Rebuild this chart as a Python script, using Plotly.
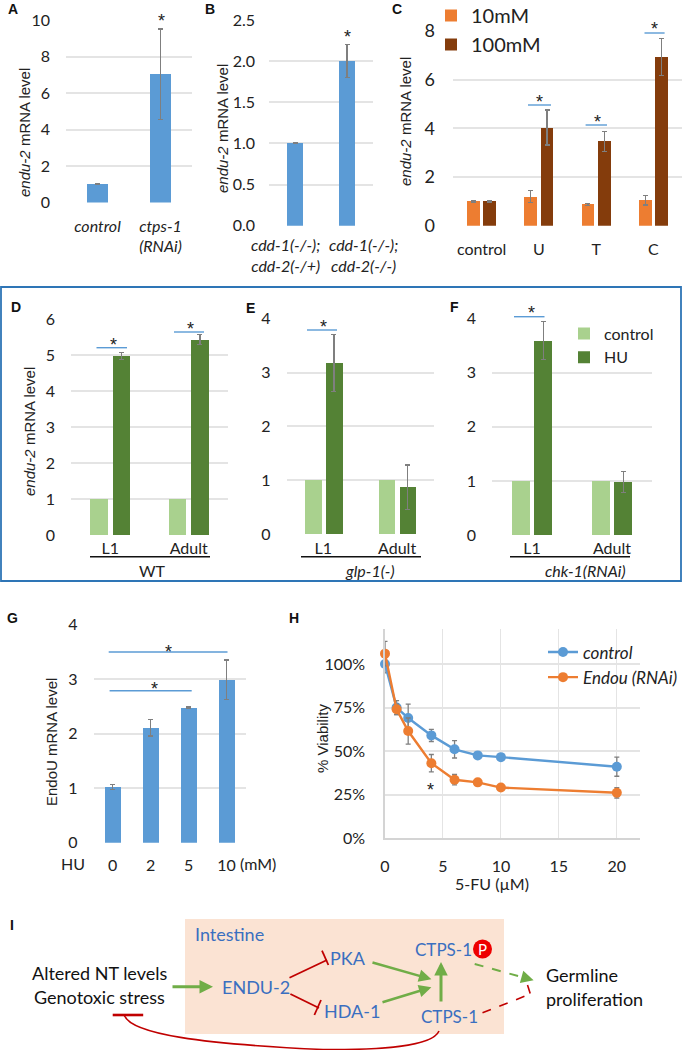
import plotly.graph_objects as go

W, H = 682, 1050
BLUE, ORANGE, BROWN, LGREEN, DGREEN = "#5b9bd5", "#ed7d31", "#843c0c", "#a9d18e", "#548235"
GRID, ERR, TXT, LINK, GA, RED = "#e4e4e4", "#7f7f7f", "#222222", "#5b9bd5", "#70ad47", "#c00000"
NODE = "#3a6fc0"
NUM = "Lato"
SANS = "Liberation Sans"

# Panel A
a_cat = ["<i>control</i>", "<i>ctps-1<br>(RNAi)</i>"]
a_val = [1.0, 7.03]
a_err = [0.02, 2.47]
# Panel B
b_cat = ["<i>cdd-1(-/-);<br>cdd-2(-/+)</i>", "<i>cdd-1(-/-);<br>cdd-2(-/-)</i>"]
b_val = [1.0, 2.0]
b_err = [0.005, 0.2]
# Panel C
c_cat = ["control", "U", "T", "C"]
c_10 = [1.0, 1.2, 0.88, 1.05]
c_10_err = [0.02, 0.25, 0.04, 0.2]
c_100 = [1.0, 4.03, 3.46, 6.94]
c_100_err = [0.02, 0.72, 0.4, 0.76]
# Panel D
stage = ["L1", "Adult"]
d_ctrl = [1.0, 1.0]
d_hu = [4.97, 5.43]
d_hu_err = [0.1, 0.13]
# Panel E
e_ctrl = [1.0, 1.0]
e_hu = [3.18, 0.87]
e_hu_err = [0.53, 0.41]
# Panel F
f_ctrl = [1.0, 1.0]
f_hu = [3.6, 0.98]
f_hu_err = [0.35, 0.19]
# Panel G
g_cat = ["0", "2", "5", "10"]
g_val = [1.02, 2.11, 2.48, 2.99]
g_err = [0.05, 0.15, 0.01, 0.36]
# Panel H
h_x = [0, 1, 2, 4, 6, 8, 10, 20]
h_ctrl = [100, 75, 69, 59, 51, 47.5, 46.5, 41]
h_ctrl_err = [5, 4, 8, 3.5, 5, 1, 1.5, 5.5]
h_rnai = [106, 74, 61.5, 43, 33.5, 32, 29, 26]
h_rnai_err = [7, 3, 7.5, 5, 3, 1, 1, 3]


def px(x):
    return x / W


def py(y):
    return 1 - y / H


fig = go.Figure()
shapes, notes = [], []


def axes(n, x0, x1, top, bottom, yrange, dtick, tick_size=16, cat=None, standoff=22, ystand=15, ticktext=None):
    sx = "" if n == 1 else str(n)
    fig.layout["xaxis" + sx] = dict(
        domain=[px(x0), px(x1)], anchor="y" + sx, showgrid=False, zeroline=False, showline=False,
        ticks="", tickfont=dict(family=NUM, size=16, color=TXT), ticklabelstandoff=standoff,
        range=[-0.5, len(cat) - 0.5] if cat else None, type="category" if cat else None,
        tickangle=0, fixedrange=True,
    )
    fig.layout["yaxis" + sx] = dict(
        domain=[py(bottom), py(top)], anchor="x" + sx, range=yrange, dtick=dtick, showgrid=True,
        gridcolor=GRID, gridwidth=1.6, zeroline=False, showline=False, ticks="",
        tickfont=dict(family=NUM, size=tick_size, color=TXT), ticklabelstandoff=ystand, fixedrange=True,
    )
    if ticktext:
        fig.layout["yaxis" + sx].tickformat = ticktext


def bar(n, x, y, color, width, err=None, offset=None, name=None, legend=None):
    sx = "" if n == 1 else str(n)
    kw = dict(
        x=x, y=y, width=width, marker=dict(color=color, line=dict(width=0)), xaxis="x" + sx, yaxis="y" + sx,
        showlegend=bool(name), name=name or "",
    )
    if legend:
        kw["legend"] = legend
    if offset is not None:
        kw["offset"] = offset
    if err is not None:
        kw["error_y"] = dict(type="data", array=err, color=ERR, thickness=1.3, width=2.5)
    fig.add_trace(go.Bar(**kw))


def text(x, y, s, size=16, color=TXT, family=NUM, angle=0, anchor="center"):
    notes.append(dict(
        x=px(x), y=py(y), xref="paper", yref="paper", text=s, showarrow=False, xanchor=anchor, yanchor="middle",
        textangle=angle, font=dict(family=family, size=size, color=color),
    ))


def seg(x0, y0, x1, y1, color=LINK, width=1.4, dash="solid"):
    shapes.append(dict(
        type="line", xref="paper", yref="paper", x0=px(x0), y0=py(y0), x1=px(x1), y1=py(y1),
        line=dict(color=color, width=width, dash=dash),
    ))


def arrow(x0, y0, x1, y1, width=2.5, size=1.0):
    notes.append(dict(
        x=px(x1), y=py(y1), xref="paper", yref="paper", text="", showarrow=True, arrowhead=2, arrowsize=size,
        arrowwidth=width, arrowcolor=GA, ax=x0 - x1, ay=y0 - y1, standoff=0, startstandoff=0,
    ))


# Charts
axes(1, 66, 192, 20, 202.5, [0, 10], 2, cat=a_cat, standoff=12)
bar(1, a_cat, a_val, BLUE, 0.32, a_err)
axes(2, 269, 373, 20, 225.7, [0, 2.5], 0.5, cat=b_cat, standoff=11, ystand=13, ticktext=".1f")
fig.layout.xaxis2.showticklabels = False
bar(2, b_cat, b_val, BLUE, 0.31, b_err)
text(285, 255, b_cat[0], 16)
text(363, 255, b_cat[1], 16)
axes(3, 453, 682, 31, 225.7, [0, 8], 2, tick_size=18, cat=c_cat, standoff=12, ystand=17)
bar(3, c_cat, c_10, ORANGE, 0.225, c_10_err, -0.255, "10mM", "legend")
bar(3, c_cat, c_100, BROWN, 0.225, c_100_err, 0.03, "100mM", "legend")
axes(4, 71, 228, 319, 535, [0, 6], 1, cat=stage, standoff=2)
bar(4, stage, d_ctrl, LGREEN, 0.223, None, -0.255)
bar(4, stage, d_hu, DGREEN, 0.223, d_hu_err, 0.03)
axes(5, 286.5, 434, 318.7, 534, [0, 4], 1, cat=stage, standoff=3)
bar(5, stage, e_ctrl, LGREEN, 0.224, None, -0.255)
bar(5, stage, e_hu, DGREEN, 0.224, e_hu_err, 0.03)
axes(6, 492, 652, 318.7, 535, [0, 4], 1, cat=stage, standoff=2)
bar(6, stage, f_ctrl, LGREEN, 0.225, None, -0.255, "control", "legend2")
bar(6, stage, f_hu, DGREEN, 0.225, f_hu_err, 0.03, "HU", "legend2")
axes(7, 93.6, 245.6, 624.7, 842.7, [0, 4], 1, cat=g_cat, standoff=11)
bar(7, g_cat, g_val, BLUE, 0.447, g_err)

axes(8, 385, 640, 629.3, 838, [0, 120], 25, standoff=13)
fig.layout.xaxis8.update(
    range=[0, 22], dtick=5, type="linear", showgrid=True, gridcolor=GRID, gridwidth=1.4, tickmode="linear",
    tick0=0, showline=True, linecolor="#d4d4d4", linewidth=1.5,
)
fig.layout.yaxis8.update(ticksuffix="%", showline=True, linecolor="#d4d4d4", linewidth=1.5)
for ys, es, col, nm in [(h_ctrl, h_ctrl_err, BLUE, "<i>control</i>"), (h_rnai, h_rnai_err, ORANGE, "<i>Endou (RNAi)</i>")]:
    fig.add_trace(go.Scatter(
        x=h_x, y=ys, name=nm, mode="lines+markers", xaxis="x8", yaxis="y8", legend="legend3",
        line=dict(color=col, width=2.4), marker=dict(color=col, size=10, line=dict(width=0)), cliponaxis=False,
        error_y=dict(type="data", array=es, color=ERR, thickness=1.3, width=2.5),
    ))

# Y titles
EN = "<i>endu-2</i> mRNA level"
text(24, 133, EN, 15, family=SANS, angle=-90)
text(222, 129, EN, 15, family=SANS, angle=-90)
text(406, 122, EN, 15, family=SANS, angle=-90)
text(29, 432, EN, 15, family=SANS, angle=-90)
text(51, 742, "EndoU mRNA level", 15, family=SANS, angle=-90)
text(322, 739, "% Viability", 15, family=SANS, angle=-90)
text(492, 883, "5-FU (µM)", 16)
text(73, 863, "HU", 16)
text(258, 863, "(mM)", 16)

# Panel letters
for lx, ly, s in [(13, 9, "A"), (210, 9, "B"), (396.5, 9, "C"), (15.7, 306.7, "D"), (250.6, 307.7, "E"),
                  (454.6, 306.7, "F"), (12.7, 618, "G"), (294, 618, "H"), (12, 925, "I")]:
    text(lx, ly, "<b>%s</b>" % s, 14, color="#111111", family=SANS)

# Significance marks
for sx, sy in [(161, 21), (347.5, 37), (539, 102), (597, 122), (654.5, 29), (113.5, 345), (191, 329), (323.6, 327),
               (531.4, 313), (168.5, 652), (154.6, 689), (430, 790)]:
    text(sx, sy, "*", 18, family=SANS)
for x0, x1, y in [(528, 551, 105), (585.6, 607, 125), (644.5, 664.6, 33), (96.5, 127, 347.7), (174, 204, 332),
                  (307, 337, 330), (514, 544.5, 316.7), (108.7, 227.5, 652), (109.6, 191.7, 690.7)]:
    seg(x0, y, x1, y)

# Group labels under D, E, F
seg(90, 556.7, 210, 556.7, "#111111", 1.4)
seg(301, 556.7, 421, 556.7, "#111111", 1.4)
seg(510, 556.7, 630, 556.7, "#111111", 1.4)
text(152, 570, "WT", 16)
text(370, 570, "<i>glp-1(-)</i>", 16)
text(585, 570, "<i>chk-1(RNAi)</i>", 16)

# Frame
shapes.append(dict(type="rect", xref="paper", yref="paper", x0=px(1), x1=px(681), y0=py(581), y1=py(287),
                   line=dict(color="#2e75b6", width=1.8), fillcolor="rgba(0,0,0,0)"))

# Panel I
shapes.append(dict(type="rect", xref="paper", yref="paper", x0=px(185), x1=px(504), y0=py(1034), y1=py(919),
                   line=dict(width=0), fillcolor="#fbe3d3", layer="below"))
text(193, 934, "Intestine", 18, NODE, anchor="left")
text(99.5, 973, "Altered NT levels", 18, "#111111")
text(99, 997, "Genotoxic stress", 18, "#111111")
text(256, 987, "ENDU-2", 18, NODE)
text(348, 958, "PKA", 18, NODE)
text(351.5, 1011, "HDA-1", 18, NODE)
text(443, 949, "CTPS-1", 17, NODE)
text(449, 1016, "CTPS-1", 17, NODE)
text(543.6, 975, "Germline", 18, "#111111", anchor="left")
text(543.6, 999, "proliferation", 18, "#111111", anchor="left")
shapes.append(dict(type="circle", xref="paper", yref="paper", x0=px(473), x1=px(492), y0=py(958.5), y1=py(939.5),
                   line=dict(width=0), fillcolor="#ee0000"))
text(482.5, 949, "P", 15, "#ffffff")

arrow(171, 986.7, 213, 986.7, 3, 0.9)
arrow(371, 962, 431.4, 979.3)
arrow(381, 1002.7, 431.4, 987.3)
arrow(441, 1003, 441, 962, 3, 0.9)
seg(474.7, 964, 527, 978.5, GA, 2, "dash")
arrow(522, 977, 533.6, 980.3)

seg(289.5, 977.7, 327, 960, RED, 1.8)
seg(322, 950.7, 328.4, 965, RED, 1.8)
seg(290.4, 994, 319, 1008, RED, 1.8)
seg(321, 1000, 314.4, 1015, RED, 1.8)
seg(482.5, 1012.7, 530.5, 994, RED, 1.6, "dash")
seg(527.5, 985, 532.7, 1001.7, RED, 1.6, "dash")
seg(112.7, 1015, 143.2, 1015, RED, 2.6)


def pts(*p):
    return " ".join("%.5f,%.5f" % (px(a), py(b)) for a, b in p)


shapes.append(dict(
    type="path", xref="paper", yref="paper", line=dict(color=RED, width=1.6),
    path="M %s C %s %s %s C %s %s %s" % (
        pts((124.5, 1015.7)), pts((132, 1034)), pts((200, 1044)), pts((323, 1049.5)),
        pts((380, 1050)), pts((432, 1047)), pts((439, 1031))),
))

fig.update_layout(
    width=W, height=H, margin=dict(l=0, r=0, t=0, b=0, autoexpand=False), paper_bgcolor="white", plot_bgcolor="white",
    barmode="overlay", bargap=0, shapes=shapes, annotations=notes, showlegend=True,
    font=dict(family=NUM, color=TXT),
    legend=dict(x=px(431), y=py(-4), xanchor="left", yanchor="top", font=dict(family=NUM, size=20, color=TXT),
                bgcolor="rgba(0,0,0,0)", traceorder="normal"),
    legend2=dict(x=px(564), y=py(316.5), xanchor="left", yanchor="top", font=dict(family=NUM, size=16, color=TXT),
                 bgcolor="rgba(0,0,0,0)", traceorder="normal"),
    legend3=dict(x=px(543), y=py(634.5), xanchor="left", yanchor="top", font=dict(family=NUM, size=17, color=TXT),
                 bgcolor="rgba(0,0,0,0)", traceorder="normal"),
)

fig.write_html("out.html", config=dict(displayModeBar=False),
               post_script="document.body.style.margin='0';document.body.style.overflow='hidden';")
